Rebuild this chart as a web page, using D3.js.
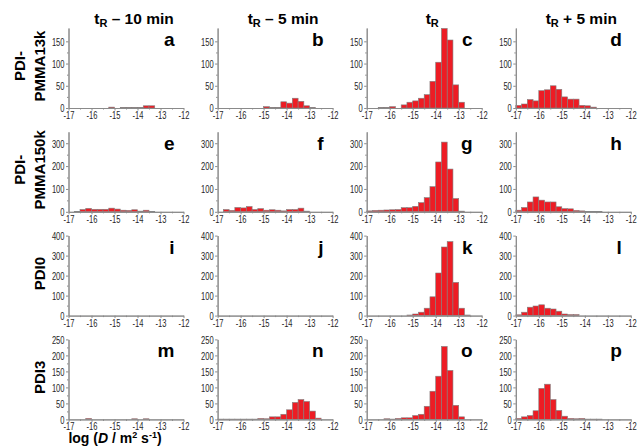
<!DOCTYPE html>
<html>
<head>
<meta charset="utf-8">
<script src="https://cdn.jsdelivr.net/npm/d3@7"></script>
<style>
  body { margin: 0; background: #fff; }
  svg { font-family: "Liberation Sans", Arial, sans-serif; }
</style>
</head>
<body>
<svg></svg>
<script>
// левые границы интервалов, log(D / m^2 s^-1)
const binStarts = [-17, -16.75, -16.5, -16.25, -16, -15.75, -15.5, -15.25, -15, -14.75,
  -14.5, -14.25, -14, -13.75, -13.5, -13.25, -13, -12.75, -12.5, -12.25]
const binWidth = 0.25
const xTicks = [-17, -16, -15, -14, -13, -12]
const xMinorTicks = [-16.5, -15.5, -14.5, -13.5, -12.5]

// число частиц в каждом интервале (строки: образцы, столбцы: время)
const countsA = [0, 0, 0, 0, 0, 0, 0, 2, 0, 1, 1, 1, 1, 5, 5, 0, 0, 0, 0, 0]
const countsB = [0, 0, 0, 0, 0, 0, 0, 0, 3, 1, 1, 14, 11, 22, 15, 5, 1, 0, 0, 0]
const countsC = [0, 0, 1, 1, 3, 0, 7, 13, 16, 22, 30, 60, 103, 179, 153, 52, 13, 0, 0, 0]
const countsD = [6, 9, 19, 16, 39, 41, 50, 42, 25, 20, 20, 6, 5, 2, 0, 0, 0, 0, 0, 0]

const countsE = [0, 1, 10, 15, 11, 11, 11, 16, 12, 7, 6, 9, 3, 7, 2, 0, 0, 0, 0, 0]
const countsF = [0, 10, 6, 19, 17, 23, 10, 14, 7, 9, 7, 4, 10, 10, 16, 3, 0, 0, 0, 0]
const countsG = [4, 6, 7, 8, 9, 10, 18, 18, 24, 40, 62, 110, 218, 305, 187, 58, 3, 0, 0, 0]
const countsH = [7, 19, 43, 65, 51, 43, 43, 22, 14, 13, 6, 4, 1, 1, 1, 0, 0, 0, 0, 0]

const countsI = [0, 0, 0, 0, 0, 0, 0, 0, 0, 0, 0, 0, 0, 0, 0, 0, 0, 0, 0, 0]
const countsJ = [0, 0, 0, 0, 0, 0, 0, 0, 0, 0, 0, 0, 0, 0, 0, 0, 0, 0, 0, 0]
const countsK = [0, 0, 0, 0, 0, 0, 0, 3, 8, 17, 37, 94, 213, 343, 370, 166, 37, 3, 0, 0]
const countsL = [4, 17, 42, 48, 54, 37, 33, 22, 8, 5, 5, 0, 0, 0, 0, 0, 0, 0, 0, 0]

const countsM = [0, 0, 0, 3, 0, 0, 0, 0, 0, 0, 0, 2, 0, 2, 0, 0, 0, 0, 0, 0]
const countsN = [1, 1, 1, 1, 1, 1, 1, 3, 2, 8, 8, 16, 30, 53, 62, 56, 26, 4, 0, 0]
const countsO = [0, 0, 0, 2, 1, 3, 5, 5, 12, 16, 41, 88, 135, 228, 153, 44, 8, 0, 0, 0]
const countsP = [3, 8, 12, 27, 97, 110, 62, 28, 10, 3, 2, 3, 1, 1, 1, 0, 0, 0, 0, 0]

const counts = [
  [countsA, countsB, countsC, countsD],
  [countsE, countsF, countsG, countsH],
  [countsI, countsJ, countsK, countsL],
  [countsM, countsN, countsO, countsP]
]
const panelLetters = ['a', 'b', 'c', 'd', 'e', 'f', 'g', 'h', 'i', 'j', 'k', 'l', 'm', 'n', 'o', 'p']
const columnTitles = [' – 10 min', ' – 5 min', '', ' + 5 min']
const rowLabels = [['PDI-', 'PMMA13k'], ['PDI-', 'PMMA150k'], ['PDI0'], ['PDI3']]
const yMax = [180, 350, 400, 250]
const yTicks = [
  [0, 50, 100, 150],
  [0, 100, 200, 300],
  [0, 100, 200, 300, 400],
  [0, 50, 100, 150, 200, 250]
]

const width = 638
const height = 447
const plotW = 115
const plotH = 80
const left0 = 68.5
const colStep = 149.1
const top0 = 28
const rowStep = 103.8
const axisColor = '#8a8a8a'

let svg = d3.select('svg').attr('width', width).attr('height', height)

// сжимаем подписи делений (в оригинале узкий шрифт)
function squeeze (sel) {
  sel.selectAll('text').each(function () {
    const len = this.getComputedTextLength()
    d3.select(this).attr('textLength', len * 0.72).attr('lengthAdjust', 'spacingAndGlyphs')
  })
}

function styleAxis (g) {
  g.select('.domain').attr('stroke', axisColor)
  g.selectAll('.tick line').attr('stroke', axisColor)
  g.selectAll('.tick text').attr('fill', '#262626').style('font-size', '10.5px')
}

function drawPanel (r, c) {
  const x0 = left0 + c * colStep
  const y0 = top0 + r * rowStep
  const g = svg.append('g').attr('transform', `translate(${x0}, ${y0})`)

  const scX = d3.scaleLinear().domain([-17, -12]).range([0, plotW])
  const scY = d3.scaleLinear().domain([0, yMax[r]]).range([plotH, 0])

  const data = binStarts.map((x, i) => ({ x: x, v: counts[r][c][i] })).filter(d => d.v > 0)

  g.selectAll('rect')
    .data(data)
    .enter()
    .append('rect')
    .attr('x', d => scX(d.x))
    .attr('y', d => scY(d.v))
    .attr('width', d => scX(d.x + binWidth) - scX(d.x))
    .attr('height', d => plotH - scY(d.v))
    .attr('fill', '#ed1c24')
    .attr('stroke', '#808080')
    .attr('stroke-width', 0.6)

  // второстепенные деления
  const yMinor = yTicks[r].slice(1).map((t, i) => (t + yTicks[r][i]) / 2)
  g.append('g')
    .attr('transform', `translate(0, ${plotH})`)
    .call(d3.axisBottom(scX).tickValues(xMinorTicks).tickSize(1.5).tickSizeOuter(0).tickFormat(''))
    .call(styleAxis)
  g.append('g')
    .call(d3.axisLeft(scY).tickValues(yMinor).tickSize(1.5).tickSizeOuter(0).tickFormat(''))
    .call(styleAxis)

  const axX = g.append('g')
    .attr('transform', `translate(0, ${plotH})`)
    .call(d3.axisBottom(scX).tickValues(xTicks).tickSize(2.5).tickSizeOuter(0)
      .tickPadding(1).tickFormat(d => String(d)))
    .call(styleAxis)
  squeeze(axX)

  const axY = g.append('g')
    .call(d3.axisLeft(scY).tickValues(yTicks[r]).tickSize(2.5).tickSizeOuter(0)
      .tickPadding(1.5).tickFormat(d => String(d)))
    .call(styleAxis)
  axY.selectAll('.tick text').attr('dy', '0.36em')
  squeeze(axY)

  g.append('text')
    .attr('x', plotW - 9)
    .attr('y', 18)
    .attr('text-anchor', 'end')
    .style('font-size', '19px')
    .style('font-weight', 'bold')
    .text(panelLetters[r * 4 + c])
}

for (let r = 0; r < 4; r++) {
  for (let c = 0; c < 4; c++) drawPanel(r, c)
}

// заголовки столбцов
columnTitles.forEach((t, c) => {
  const txt = svg.append('text')
    .attr('x', left0 + c * colStep + plotW / 2 + 8)
    .attr('y', 24)
    .attr('text-anchor', 'middle')
    .style('font-size', '15.5px')
    .style('font-weight', 'bold')
  txt.append('tspan').text('t')
  txt.append('tspan').attr('dy', 3).style('font-size', '11px').text('R')
  if (t) txt.append('tspan').attr('dy', -3).text(t)
})

// подписи строк
rowLabels.forEach((lines, r) => {
  const cy = top0 + r * rowStep + plotH / 2 - 2
  lines.forEach((line, k) => {
    const bx = lines.length === 2 ? 25 + k * 20 : 45
    svg.append('text')
      .attr('transform', `translate(${bx}, ${cy}) rotate(-90)`)
      .attr('text-anchor', 'middle')
      .style('font-size', '15px')
      .style('font-weight', 'bold')
      .text(line)
  })
})

// подпись оси X
const xl = svg.append('text')
  .attr('x', 115)
  .attr('y', 443)
  .attr('text-anchor', 'middle')
  .style('font-size', '14px')
  .style('font-weight', 'bold')
xl.append('tspan').text('log (')
xl.append('tspan').style('font-style', 'italic').text('D')
xl.append('tspan').text(' / m')
xl.append('tspan').attr('dy', -5).style('font-size', '9px').text('2')
xl.append('tspan').attr('dy', 5).text(' s')
xl.append('tspan').attr('dy', -5).style('font-size', '9px').text('-1')
xl.append('tspan').attr('dy', 5).text(')')
</script>
</body>
</html>
